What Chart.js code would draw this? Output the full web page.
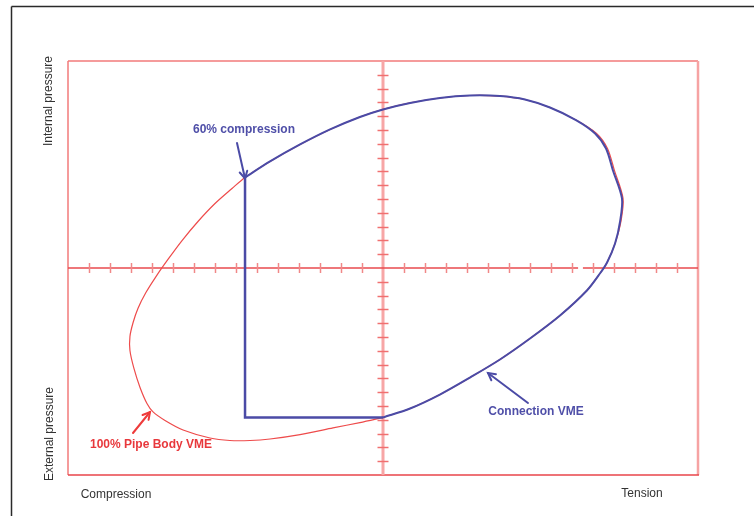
<!DOCTYPE html>
<html><head><meta charset="utf-8">
<script src="https://cdn.jsdelivr.net/npm/chart.js@4/dist/chart.umd.min.js"></script>
<style>html,body{margin:0;padding:0;background:#fff;overflow:hidden}</style>
</head><body>
<canvas id="c" width="754" height="516" style="display:block;width:754px;height:516px"></canvas>
<script>
// ---- data (units: axial load on x, pressure on y) ----
const axisMin = -15, axisMax = 15;
const tickValues = [-14,-13,-12,-11,-10,-9,-8,-7,-6,-5,-4,-3,-2,-1,1,2,3,4,5,6,7,8,9,10,11,12,13,14];
const axisGap = [9.29, 9.52];

// 100% Pipe Body VME envelope (closed loop)
const pipeBodyX = [0,-1.10,-2.38,-3.95,-5.38,-6.33,-7.29,-8.24,-9.52,-10.38,-10.95,-11.24,-11.57,-11.86,-12.05,-12.05,-11.90,-11.67,-11.29,-10.81,-10.24,-9.57,-8.81,-8.00,-7.19,-6.57,
  -5.38,-3.95,-2.52,-1.10,0,1.29,2.71,4.14,5.57,6.76,7.95,9.19,10.17,10.69,11.02,11.43,11.33,11.05,10.67,10.33,9.71,8.43,7.00,5.57,4.14,2.71,1.29,0];
const pipeBodyY = [-10.83,-11.20,-11.59,-12.07,-12.39,-12.50,-12.50,-12.32,-11.74,-11.05,-10.43,-9.82,-8.66,-7.28,-5.98,-4.96,-3.95,-2.93,-1.78,-0.62,0.62,1.99,3.37,4.67,5.76,6.56,
  7.72,8.95,10.04,10.94,11.49,11.96,12.32,12.50,12.46,12.21,11.63,10.72,9.75,8.66,7.07,5.04,3.37,1.78,0.40,-0.40,-1.63,-3.44,-5.11,-6.63,-7.94,-9.17,-10.18,-10.83];

// Connection VME envelope
const connectionX = [-6.57,-5.38,-3.95,-2.52,-1.10,0,1.29,2.71,4.14,5.57,6.76,7.95,9.19,10.10,10.62,10.95,11.38,11.29,11.05,10.67,10.33,9.71,8.43,7.00,5.57,4.14,2.71,1.29,0];
const connectionY = [6.56,7.72,8.95,10.04,10.94,11.49,11.96,12.32,12.50,12.46,12.21,11.63,10.72,9.75,8.66,7.07,5.04,3.37,1.78,0.40,-0.40,-1.63,-3.44,-5.11,-6.63,-7.94,-9.17,-10.18,-10.83];

// 60% compression limit lines
const limitX = [0,-6.57,-6.57];
const limitY = [-10.83,-10.83,6.56];

const pts = (xs, ys) => xs.map((v,i)=>({x:v, y:ys[i]}));

const RED = '#ee4b4b', BLUE = '#4b4ba6';

const decor = {
  id:'decor',
  beforeDatasetsDraw(chart){
    const {ctx, chartArea:a, scales:{x,y}} = chart;
    const x0 = x.getPixelForValue(0), y0 = y.getPixelForValue(0);
    const line=(x1,y1,x2,y2)=>{ctx.beginPath();ctx.moveTo(x1,y1);ctx.lineTo(x2,y2);ctx.stroke();};
    ctx.save();
    // outer frame
    ctx.strokeStyle='#2a2a2a'; ctx.lineWidth=1.5;
    line(11.5,6.5,754,6.5); line(11.5,6.5,11.5,516);
    // plot rectangle
    ctx.lineWidth=1.5;
    ctx.strokeStyle='#f27a7a';
    line(a.left,a.top,a.right,a.top); line(a.left,a.top,a.left,a.bottom);
    ctx.strokeStyle='#f6a3a3'; ctx.lineWidth=2.5;
    line(a.right,a.top,a.right,a.bottom);
    ctx.strokeStyle='#e8444a'; ctx.lineWidth=1.5;
    line(a.left,a.bottom,a.right+1,a.bottom);
    // vertical axis
    ctx.strokeStyle='#f7a6a6'; ctx.lineWidth=3;
    line(x0,a.top,x0,a.bottom);
    ctx.strokeStyle='#f07070'; ctx.lineWidth=1.5;
    tickValues.forEach(v=>{const py=Math.round(y.getPixelForValue(v))+0.5; line(x0-5.5,py,x0+5.5,py);});
    // horizontal axis
    ctx.strokeStyle='#e94a4e'; ctx.lineWidth=1.5;
    line(a.left,y0,x.getPixelForValue(axisGap[0]),y0);
    line(x.getPixelForValue(axisGap[1]),y0,a.right,y0);
    ctx.strokeStyle='#f08888'; ctx.lineWidth=1.5;
    tickValues.forEach(v=>{const px=Math.round(x.getPixelForValue(v))+0.5; line(px,y0-5,px,y0+5);});
    ctx.restore();
  },
  afterDatasetsDraw(chart){
    const {ctx, scales:{x,y}} = chart;
    const P=(vx,vy)=>[x.getPixelForValue(vx), y.getPixelForValue(vy)];
    const arrow=(tx,ty,hx,hy,col)=>{
      ctx.save(); ctx.strokeStyle=col; ctx.lineWidth=2; ctx.lineCap='round';
      ctx.beginPath(); ctx.moveTo(tx,ty); ctx.lineTo(hx,hy); ctx.stroke();
      const ang=Math.atan2(hy-ty,hx-tx), L=8, w=0.5;
      ctx.beginPath();
      ctx.moveTo(hx-L*Math.cos(ang-w), hy-L*Math.sin(ang-w));
      ctx.lineTo(hx,hy);
      ctx.lineTo(hx-L*Math.cos(ang+w), hy-L*Math.sin(ang+w));
      ctx.stroke(); ctx.restore();
    };
    ctx.save();
    ctx.textAlign='center'; ctx.textBaseline='middle';
    // annotations
    ctx.font='bold 12px "Liberation Sans", Arial, sans-serif';
    ctx.fillStyle='#4f4fa8';
    ctx.fillText('60% compression', 244, 130);
    ctx.fillText('Connection VME', 536, 412);
    ctx.fillStyle='#e8383c';
    ctx.fillText('100% Pipe Body VME', 151, 445);
    let h;
    h=P(-6.57,6.56); arrow(237,143,h[0],h[1]+1,'#4b4ba6');
    arrow(528,403,488,373,'#4b4ba6');
    arrow(133,433,150,412,'#ee3b3b');
    // axis captions
    ctx.fillStyle='#333';
    ctx.font='12px "Liberation Sans", Arial, sans-serif';
    ctx.fillText('Compression', 116, 495);
    ctx.fillText('Tension', 642, 494);
    ctx.save(); ctx.translate(48.5,101); ctx.rotate(-Math.PI/2); ctx.fillText('Internal pressure',0,0); ctx.restore();
    ctx.save(); ctx.translate(49.5,434); ctx.rotate(-Math.PI/2); ctx.fillText('External pressure',0,0); ctx.restore();
    ctx.restore();
  }
};

new Chart(document.getElementById('c'), {
  type:'scatter',
  data:{datasets:[
    {label:'Connection VME', data:pts(connectionX,connectionY), showLine:true, borderColor:BLUE, borderWidth:2, pointRadius:0, tension:0.3, order:0},
    {label:'60% compression', data:pts(limitX,limitY), showLine:true, borderColor:BLUE, borderWidth:2.5, pointRadius:0, tension:0, order:1},
    {label:'100% Pipe Body VME', data:pts(pipeBodyX,pipeBodyY), showLine:true, borderColor:RED, borderWidth:1.2, pointRadius:0, tension:0.3, order:2}
  ]},
  options:{
    responsive:false, animation:false, devicePixelRatio:1,
    layout:{padding:{left:68,right:56,top:61,bottom:41}},
    plugins:{legend:{display:false}, tooltip:{enabled:false}},
    scales:{
      x:{type:'linear', min:axisMin, max:axisMax, display:false},
      y:{type:'linear', min:axisMin, max:axisMax, display:false}
    }
  },
  plugins:[decor]
});
</script>
</body></html>
